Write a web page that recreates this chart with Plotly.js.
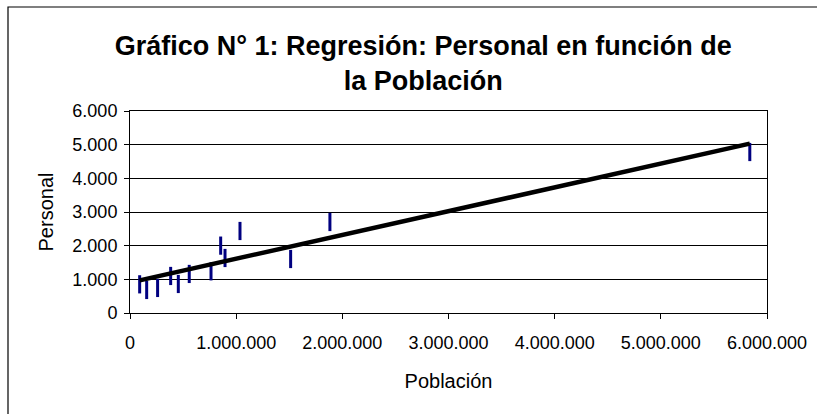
<!DOCTYPE html>
<html>
<head>
<meta charset="utf-8">
<script src="https://cdn.plot.ly/plotly-3.0.1.min.js"></script>
<style>html,body{margin:0;padding:0;background:#fff;}#chart{width:817px;height:414px;}</style>
</head>
<body>
<div id="chart"></div>
<script>
// Observed data (Población, Personal)
var poblacion = [91000, 157000, 260000, 383000, 455000, 558000, 763000, 854000, 895000, 1036000, 1513000, 1883000, 5838000];
var personal  = [852, 684, 744, 1100, 862, 1160, 1238, 2001, 1634, 2436, 1604, 2703, 4782];

// Regression line endpoints
var trendX = [91000, 5838000];
var trendY = [970, 5030];

// Tick values and labels
var xTickVals = [0, 1000000, 2000000, 3000000, 4000000, 5000000, 6000000];
var xTickText = ["0", "1.000.000", "2.000.000", "3.000.000", "4.000.000", "5.000.000", "6.000.000"];
var yTickVals = [0, 1000, 2000, 3000, 4000, 5000, 6000];
var yTickText = ["0", "1.000", "2.000", "3.000", "4.000", "5.000", "6.000"];

var font = "Liberation Sans, Arial, sans-serif";

var traces = [
  {
    x: poblacion, y: personal, type: "scatter", mode: "markers",
    marker: {symbol: "line-ns", size: 13, color: "#000080", line: {width: 3, color: "#000080"}},
    hoverinfo: "skip", cliponaxis: false
  },
  {
    x: trendX, y: trendY, type: "scatter", mode: "lines",
    line: {color: "#000000", width: 4.5},
    hoverinfo: "skip", cliponaxis: false
  }
];

var layout = {
  width: 817, height: 414,
  margin: {l: 130, r: 50, t: 111, b: 101, autoexpand: false},
  paper_bgcolor: "#ffffff", plot_bgcolor: "#ffffff",
  showlegend: false,
  font: {family: font, color: "#000000"},
  title: {
    text: "<b>Gráfico N° 1: Regresión: Personal en función de<br>la Población</b>",
    font: {family: font, size: 27, color: "#000000"},
    xref: "container", x: 0.518, xanchor: "center",
    yref: "container", y: 0.867, yanchor: "top"
  },
  xaxis: {
    range: [0, 6000000], tickmode: "array", tickvals: xTickVals, ticktext: xTickText,
    ticks: "outside", ticklen: 5, tickcolor: "#000", tickwidth: 1,
    showline: true, linecolor: "#000", linewidth: 1, mirror: true,
    showgrid: false, zeroline: false, ticklabelstandoff: 8,
    tickfont: {family: font, size: 18, color: "#000"},
    title: {text: "Población", font: {family: font, size: 20, color: "#000"}, standoff: 22},
    automargin: false
  },
  yaxis: {
    range: [0, 6000], tickmode: "array", tickvals: yTickVals, ticktext: yTickText,
    ticks: "outside", ticklen: 5, tickcolor: "#000", tickwidth: 1,
    showline: true, linecolor: "#000", linewidth: 1, mirror: true,
    showgrid: true, gridcolor: "#000", gridwidth: 1, zeroline: false, ticklabelstandoff: 3,
    tickfont: {family: font, size: 18, color: "#000"},
    title: {text: "Personal", font: {family: font, size: 20, color: "#000"}, standoff: 13},
    automargin: false
  },
  shapes: [
    {type: "rect", xref: "paper", yref: "paper",
     x0: (8 - 130) / 637, x1: (840 - 130) / 637,
     y0: (313 - 440) / 202, y1: (313 - 7) / 202,
     line: {color: "#000", width: 1.2}, fillcolor: "rgba(0,0,0,0)", layer: "below"}
  ]
};

Plotly.newPlot("chart", traces, layout, {displayModeBar: false, staticPlot: true});
</script>
</body>
</html>
